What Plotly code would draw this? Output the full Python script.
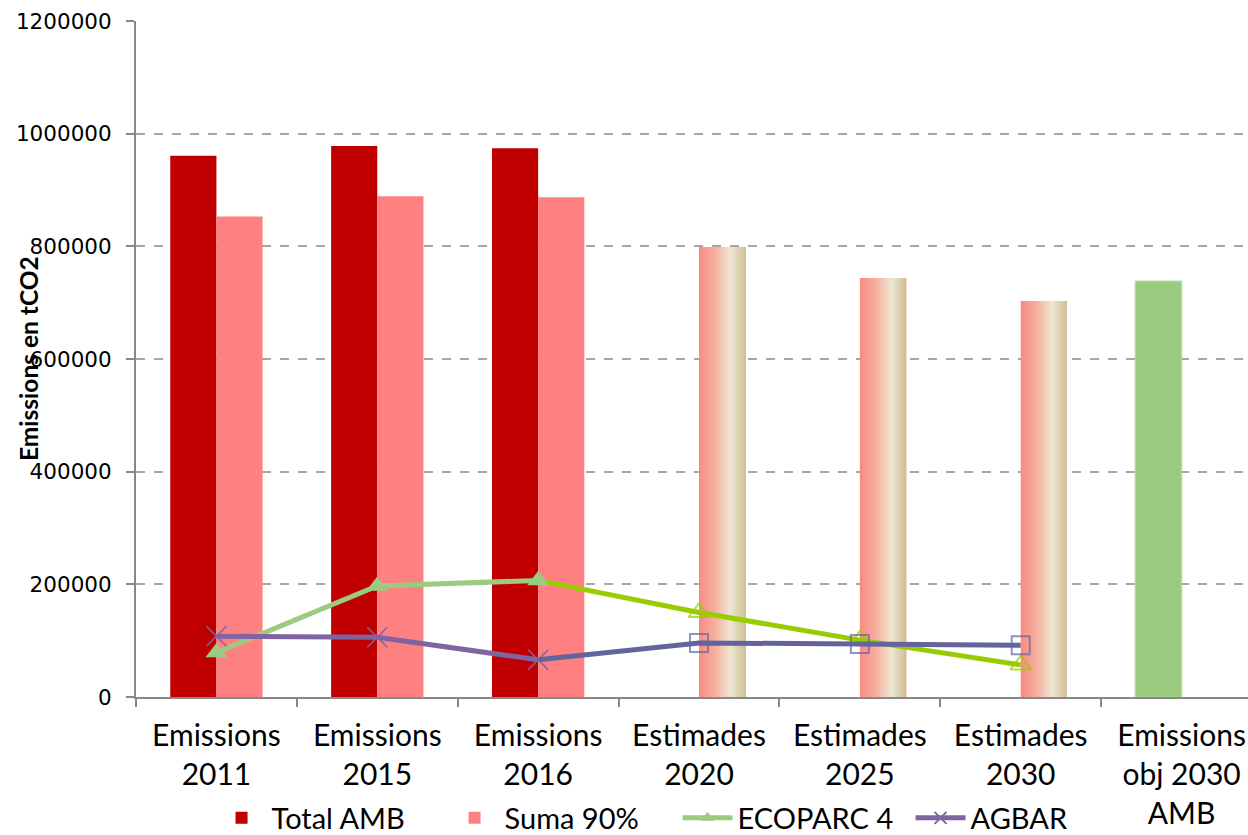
import plotly.graph_objects as go

categories = ["Emissions 2011", "Emissions 2015", "Emissions 2016", "Estimades 2020",
              "Estimades 2025", "Estimades 2030", "Emissions obj 2030 AMB"]
tick_labels = ["Emissions<br>2011", "Emissions<br>2015", "Emissions<br>2016", "Estimades<br>2020",
               "Estimades<br>2025", "Estimades<br>2030", "Emissions<br>obj 2030<br>AMB"]
total_amb = [961000, 978000, 974000, None, None, None, 738000]
suma_90 = [853000, 889000, 887000, 799000, 744000, 703000, None]
ecoparc4 = [79000, 197000, 207000, 150000, 101000, 57000, None]
agbar = [108000, 106000, 66000, 96000, 94000, 92000, None]

is_est = [c.startswith("Estimades") for c in categories]
is_obj = [c.startswith("Emissions obj") for c in categories]

FONT = "Lato"
W = 0.287  # bar width in category units

fig = go.Figure()

# Total AMB (historical, dark red)
fig.add_trace(go.Bar(
    x=categories, y=[v if not o else None for v, o in zip(total_amb, is_obj)],
    name="Total AMB", marker=dict(color="#C00000", line=dict(width=0)),
    offset=-W, width=W))
# objective bar (green), same slot as Total AMB
fig.add_trace(go.Bar(
    x=categories, y=[v if o else None for v, o in zip(total_amb, is_obj)],
    name="Total AMB obj", showlegend=False,
    marker=dict(color="#9BCB7F", line=dict(width=1.5, color="rgba(170,215,130,0.7)")),
    offset=-W, width=W))
# Suma 90% historical
fig.add_trace(go.Bar(
    x=categories, y=[v if not e else None for v, e in zip(suma_90, is_est)],
    name="Suma 90%", marker=dict(color="#FF8080", line=dict(width=0)),
    offset=0, width=W))

# Suma 90% estimates: gradient emulated via overlapping strips
stops = [(0.0, (250, 138, 130)), (0.35, (246, 176, 158)), (0.68, (238, 230, 210)), (1.0, (208, 192, 152))]


def interp(f):
    for (f0, c0), (f1, c1) in zip(stops[:-1], stops[1:]):
        if f0 <= f <= f1:
            t = (f - f0) / (f1 - f0)
            return "rgb(%d,%d,%d)" % tuple(round(a + (b - a) * t) for a, b in zip(c0, c1))
    return "rgb(%d,%d,%d)" % stops[-1][1]


N = 40
suma_est = [v if e else None for v, e in zip(suma_90, is_est)]
for i in range(N):
    fig.add_trace(go.Bar(
        x=categories, y=suma_est, showlegend=False, hoverinfo="skip",
        marker=dict(color=interp((i + 0.5) / N), line=dict(width=0)),
        offset=i * W / N, width=W - i * W / N))

# Estimate segments of the lines (from 2016 onward)
start = categories.index("Emissions 2016")
est_x = categories[start:]
fig.add_trace(go.Scatter(
    x=est_x, y=ecoparc4[start:], mode="lines+markers", showlegend=False,
    line=dict(color="#99CC00", width=5),
    marker=dict(symbol="triangle-up-open", size=[0] + [18] * (len(est_x) - 1),
                color="#99CC00", line=dict(width=2, color="#99CC00"))))
fig.add_trace(go.Scatter(
    x=est_x, y=agbar[start:], mode="lines+markers", showlegend=False,
    line=dict(color="#64649C", width=5),
    marker=dict(symbol="square-open", size=[0] + [18] * (len(est_x) - 1),
                color="#64649C", line=dict(width=2, color="#64649C"))))

# Historical segments
fig.add_trace(go.Scatter(
    x=categories[:start + 1], y=ecoparc4[:start + 1], mode="lines+markers", name="ECOPARC 4",
    line=dict(color="#9BCB7F", width=5),
    marker=dict(symbol="triangle-up", size=19, color="#9BCB7F")))
fig.add_trace(go.Scatter(
    x=categories[:start + 1], y=agbar[:start + 1], mode="lines+markers", name="AGBAR",
    line=dict(color="#8064A2", width=5),
    marker=dict(symbol="x-thin", size=20, color="#8064A2", line=dict(width=1.5, color="#8064A2"))))

fig.update_layout(
    width=1248, height=835,
    margin=dict(l=136, r=0, t=21, b=138, autoexpand=False),
    paper_bgcolor="white", plot_bgcolor="white",
    barmode="overlay",
    font=dict(family=FONT, color="black"),
    legend=dict(orientation="h", x=0.487, xanchor="center", y=-0.179, yanchor="middle",
                font=dict(size=29, family=FONT), bgcolor="rgba(0,0,0,0)",
                traceorder="normal", itemsizing="constant", itemwidth=50,
                entrywidth=168, entrywidthmode="pixels"),
    annotations=[dict(text="<b>Emissions en tCO2</b>", xref="paper", yref="paper",
                      x=0, y=0.5, xshift=-108, textangle=-90, showarrow=False,
                      xanchor="center", yanchor="middle",
                      font=dict(size=24.5, family=FONT, color="black"))],
)
fig.update_yaxes(range=[0, 1200000], dtick=200000, tickformat="d", automargin=False,
                 showgrid=True, gridcolor="#A6A6A6", griddash="dash", gridwidth=1.5,
                 showline=True, linecolor="#888888", linewidth=2,
                 ticks="outside", ticklen=8, tickcolor="#888888", tickwidth=1.5,
                 ticklabelstandoff=10,
                 tickfont=dict(family="DejaVu Sans", size=21.5, color="black"),
                 zeroline=False)
fig.update_xaxes(tickmode="array", tickvals=categories, ticktext=tick_labels, automargin=False,
                 tickson="boundaries", ticks="outside", ticklen=8, tickcolor="#888888", tickwidth=2,
                 showline=True, linecolor="#888888", linewidth=2,
                 ticklabelstandoff=11,
                 tickfont=dict(family=FONT, size=30, color="black"),
                 showgrid=False, range=[-0.5, 6.413])

fig.write_html("out.html", config={"displayModeBar": False},
               post_script="document.body.style.margin='0';document.body.style.overflow='hidden';")
